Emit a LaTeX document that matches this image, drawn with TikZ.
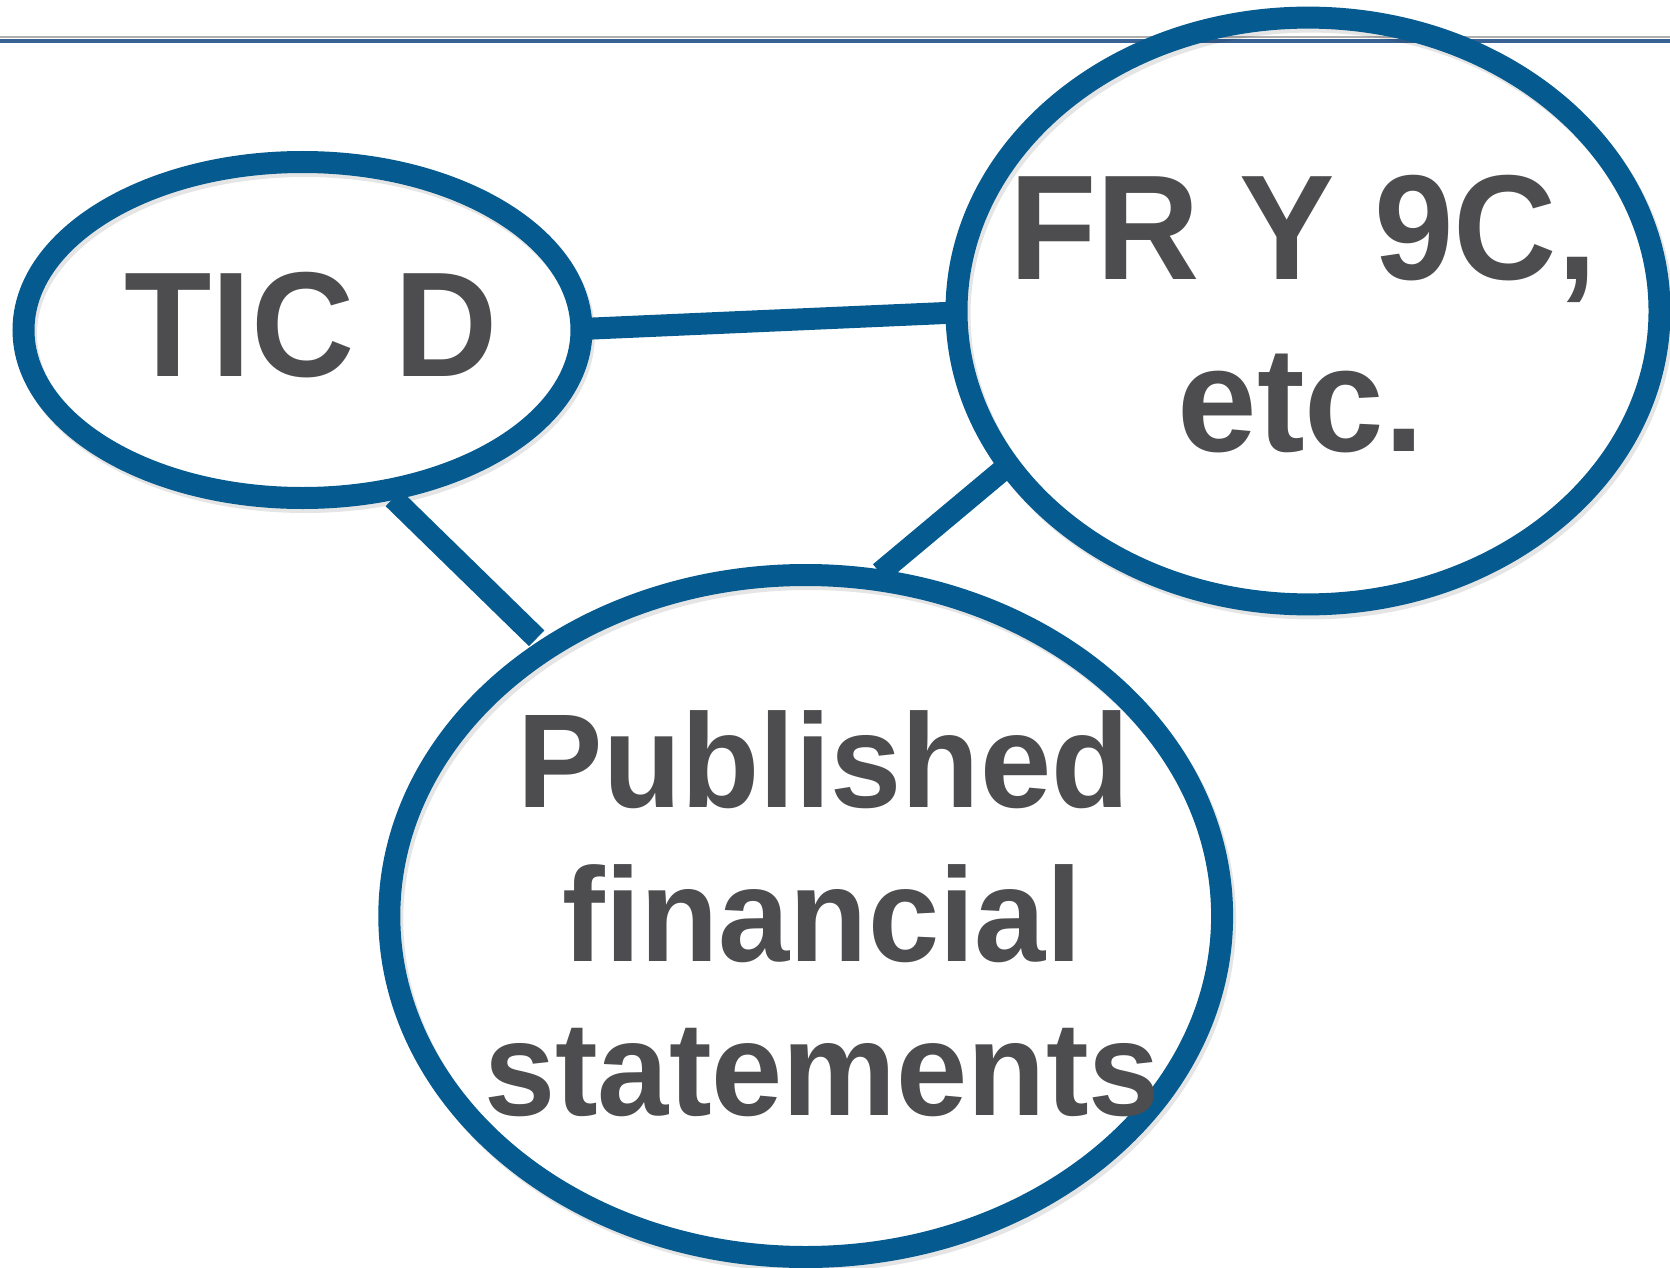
\documentclass[tikz,border=0pt]{standalone}
\usepackage{fontspec}
\usepackage{graphicx}
\setmainfont{Liberation Sans}
\usetikzlibrary{shapes.geometric}
\definecolor{ringblue}{RGB}{5,91,143}
\definecolor{txtgray}{RGB}{77,77,79}
\definecolor{barblue}{RGB}{55,98,147}
\definecolor{bargray}{RGB}{175,175,175}
\newcommand{\tallx}[1]{\scalebox{1}[1.045]{#1}}
\begin{document}
\begin{tikzpicture}[x=1pt,y=-1pt,
  ring/.style={ellipse, draw=ringblue, line width=22pt, inner sep=0pt, outer sep=0pt},
  ringshadow/.style={draw=black, opacity=0.1, line width=22pt},
  link/.style={draw=ringblue, line width=22pt, line cap=butt},
  bigtext/.style={text=txtgray, font=\bfseries\fontsize{143}{172}\selectfont, anchor=base, inner sep=0pt},
  midtext/.style={text=txtgray, font=\bfseries\fontsize{128}{154}\selectfont, anchor=base, inner sep=0pt}]
\useasboundingbox (0,0) rectangle (1670,1268);
% header rule
\draw[bargray, line width=2pt] (0,37.5) -- (1670,37.5);
\draw[barblue, line width=3.5pt] (0,41) -- (1670,41);
% soft shadows
\draw[ringshadow] (305,334) ellipse [x radius=279, y radius=168];
\draw[ringshadow] (1311,315) ellipse [x radius=351.5, y radius=293.4];
\draw[ringshadow] (808.7,920) ellipse [x radius=416.4, y radius=341];
% rings
\node[ring, minimum width=558pt, minimum height=336pt] (tic) at (302.5,330) {};
\node[ring, minimum width=703pt, minimum height=586.8pt] (fr) at (1308,311) {};
\node[ring, minimum width=832.8pt, minimum height=682pt] (pfs) at (805.7,916) {};
% connectors
\draw[link] ([shift={(279.2,-1)}]tic.center) -- ([shift={(-351.3,1.5)}]fr.center);
\draw[link] ([shift={(90.8,168.3)}]tic.center) -- ([shift={(-269,-277.7)}]pfs.center);
\draw[link] ([shift={(-301.3,155.7)}]fr.center) -- ([shift={(74.3,-343.3)}]pfs.center);
% texts
\node[bigtext] (ticlabel) at (311,376) {\tallx{TIC D}};
\node[bigtext] (frlabel1) at (1303,279) {\tallx{FR Y 9C,}};
\node[bigtext] (frlabel2) at (1301,451.5) {\tallx{etc.}};
\node[midtext] (pfslabel1) at (823.5,807) {\tallx{Published}};
\node[midtext] (pfslabel2) at (822,961) {\tallx{financial}};
\node[midtext] (pfslabel3) at (822,1115) {\tallx{statements}};
\end{tikzpicture}
\end{document}
